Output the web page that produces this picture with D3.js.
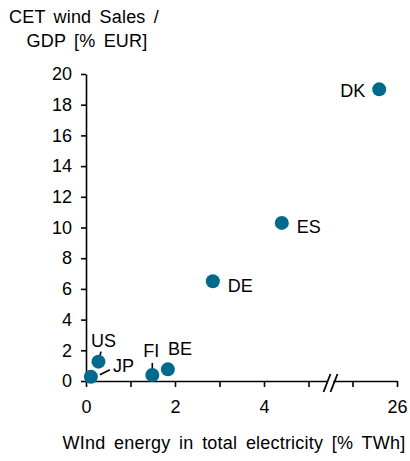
<!DOCTYPE html>
<html lang="en">
<head>
<meta charset="UTF-8">
<title>CET wind sales vs wind energy share</title>
<script src="https://d3js.org/d3.v7.min.js"></script>
<style>
  body { margin: 0; background: #fff; }
  text { font-family: "Liberation Sans", Arial, sans-serif; fill: #000; }
</style>
</head>
<body>
<div id="chart"></div>
<script>
// data
const countries = ["DK", "ES", "DE", "BE", "FI", "US", "JP"];
const windShare = [25.6, 4.4, 2.85, 1.84, 1.49, 0.28, 0.11];   // % TWh
const salesGdp  = [19.0, 10.3, 6.5, 0.76, 0.39, 1.26, 0.28];   // % EUR

const yTicks = [0, 2, 4, 6, 8, 10, 12, 14, 16, 18, 20];
const xTicks = [0, 1, 2, 3, 4, 5, 25, 26];
const xTickLabels = [0, 2, 4, 26];

// label placement relative to each dot (px): dx, dy, anchor, optional leader line
const labelPos = {
  DK: { dx: -14, dy: 8,   anchor: "end" },
  ES: { dx: 15,  dy: 10,  anchor: "start" },
  DE: { dx: 15,  dy: 11,  anchor: "start" },
  BE: { dx: 0,   dy: -14, anchor: "start" },
  FI: { dx: -1,  dy: -18, anchor: "middle", lead: [0, -5, 0, -12] },
  US: { dx: 5,   dy: -15, anchor: "middle", lead: [1.5, -6, 2.5, -10] },
  JP: { dx: 22,  dy: -5,  anchor: "start",  lead: [9, -2, 19, -7] }
};

const width = 410, height = 461;
const x0 = 86, x5 = 308.5, x25 = 352.5, x26 = 397;
const yTop = 74, yBottom = 381;

const svg = d3.select("#chart").append("svg")
  .attr("width", width)
  .attr("height", height);

// broken x axis: 0..5 then jump to 25..26
const x = d3.scaleLinear()
  .domain([0, 5, 25, 26])
  .range([x0, x5, x25, x26]);

const y = d3.scaleLinear()
  .domain([0, 20])
  .range([yBottom, yTop]);

const fs = 18;

// y axis
const yAxis = svg.append("g")
  .attr("transform", `translate(${x0},0)`)
  .call(d3.axisLeft(y).tickValues(yTicks).tickSize(5).tickSizeOuter(0).tickPadding(9));

// x axis
const xAxis = svg.append("g")
  .attr("transform", `translate(0,${yBottom})`)
  .call(d3.axisBottom(x).tickValues(xTicks).tickSize(6).tickSizeOuter(0).tickPadding(13)
    .tickFormat(d => xTickLabels.includes(d) ? d : ""));

[yAxis, xAxis].forEach(g => {
  g.selectAll("path, line").attr("stroke", "#000").attr("stroke-width", 1.6);
  g.selectAll("text")
    .style("font-family", "'Liberation Sans', Arial, sans-serif")
    .style("font-size", fs + "px")
    .attr("fill", "#000");
});

// axis break mark "//"
const bx = (x5 + x25) / 2;
svg.append("rect")
  .attr("x", bx - 3).attr("y", yBottom - 3)
  .attr("width", 6).attr("height", 6)
  .attr("fill", "#fff");
[-3.5, 3.5].forEach(off => {
  svg.append("line")
    .attr("x1", bx + off - 3.5).attr("y1", yBottom + 11)
    .attr("x2", bx + off + 3.5).attr("y2", yBottom - 7)
    .attr("stroke", "#000").attr("stroke-width", 1.8);
});

// leader lines
countries.forEach((c, i) => {
  const p = labelPos[c];
  if (!p.lead) return;
  svg.append("line")
    .attr("x1", x(windShare[i]) + p.lead[0]).attr("y1", y(salesGdp[i]) + p.lead[1])
    .attr("x2", x(windShare[i]) + p.lead[2]).attr("y2", y(salesGdp[i]) + p.lead[3])
    .attr("stroke", "#000").attr("stroke-width", 1.6);
});

// dots
svg.selectAll("circle.dot")
  .data(countries)
  .join("circle")
    .attr("class", "dot")
    .attr("cx", (d, i) => x(windShare[i]))
    .attr("cy", (d, i) => y(salesGdp[i]))
    .attr("r", 7)
    .attr("fill", "#006a8c");

// country labels
svg.selectAll("text.lbl")
  .data(countries)
  .join("text")
    .attr("class", "lbl")
    .attr("x", (d, i) => x(windShare[i]) + labelPos[d].dx)
    .attr("y", (d, i) => y(salesGdp[i]) + labelPos[d].dy)
    .attr("text-anchor", d => labelPos[d].anchor)
    .style("font-size", fs + "px")
    .text(d => d);

// y title (two lines)
const yTitle = svg.append("text")
  .attr("text-anchor", "middle")
  .style("font-size", fs + "px")
  .style("word-spacing", "3px")
  .style("letter-spacing", "0.2px");
yTitle.append("tspan").attr("x", 84).attr("y", 23).text("CET wind Sales /");
yTitle.append("tspan").attr("x", 87).attr("y", 47).text("GDP [% EUR]");

// x title
svg.append("text")
  .attr("x", 234)
  .attr("y", 449)
  .attr("text-anchor", "middle")
  .style("font-size", fs + "px")
  .style("word-spacing", "3.5px")
  .style("letter-spacing", "0.2px")
  .text("WInd energy in total electricity [% TWh]");
</script>
</body>
</html>
